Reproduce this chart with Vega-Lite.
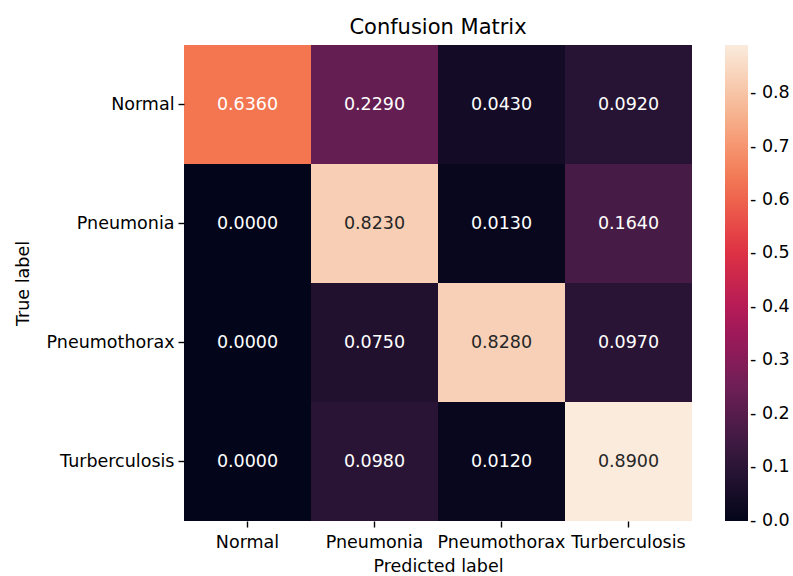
{
  "$schema": "https://vega.github.io/schema/vega-lite/v6.json",
  "width": 508,
  "height": 476,
  "autosize": "none",
  "padding": {"left": 184, "top": 45, "right": 101, "bottom": 55},
  "background": "white",
  "title": {"text": "Confusion Matrix", "font": "DejaVu Sans", "fontSize": 21, "fontWeight": "normal", "color": "black", "offset": 7, "anchor": "middle"},
  "config": {"view": {"stroke": null}},
  "data": {
    "values": [
      {"true": "Normal", "pred": "Normal", "value": 0.636},
      {"true": "Normal", "pred": "Pneumonia", "value": 0.229},
      {"true": "Normal", "pred": "Pneumothorax", "value": 0.043},
      {"true": "Normal", "pred": "Turberculosis", "value": 0.092},
      {"true": "Pneumonia", "pred": "Normal", "value": 0.0},
      {"true": "Pneumonia", "pred": "Pneumonia", "value": 0.823},
      {"true": "Pneumonia", "pred": "Pneumothorax", "value": 0.013},
      {"true": "Pneumonia", "pred": "Turberculosis", "value": 0.164},
      {"true": "Pneumothorax", "pred": "Normal", "value": 0.0},
      {"true": "Pneumothorax", "pred": "Pneumonia", "value": 0.075},
      {"true": "Pneumothorax", "pred": "Pneumothorax", "value": 0.828},
      {"true": "Pneumothorax", "pred": "Turberculosis", "value": 0.097},
      {"true": "Turberculosis", "pred": "Normal", "value": 0.0},
      {"true": "Turberculosis", "pred": "Pneumonia", "value": 0.098},
      {"true": "Turberculosis", "pred": "Pneumothorax", "value": 0.012},
      {"true": "Turberculosis", "pred": "Turberculosis", "value": 0.89}
    ]
  },
  "encoding": {
    "x": {
      "field": "pred", "type": "nominal",
      "sort": ["Normal", "Pneumonia", "Pneumothorax", "Turberculosis"],
      "title": "Predicted label",
      "scale": {"paddingInner": 0, "paddingOuter": 0},
      "axis": {
        "labelAngle": 0, "labelFont": "DejaVu Sans", "labelFontSize": 17.5, "labelColor": "black",
        "labelPadding": 6, "tickSize": 6, "tickWidth": 1.4, "tickColor": "black",
        "domain": false, "grid": false,
        "titleFont": "DejaVu Sans", "titleFontSize": 17.5, "titleFontWeight": "normal", "titleColor": "black", "titlePadding": 7
      }
    },
    "y": {
      "field": "true", "type": "nominal",
      "sort": ["Normal", "Pneumonia", "Pneumothorax", "Turberculosis"],
      "title": "True label",
      "scale": {"paddingInner": 0, "paddingOuter": 0},
      "axis": {
        "labelAngle": 0, "labelFont": "DejaVu Sans", "labelFontSize": 17.5, "labelColor": "black",
        "labelPadding": 4, "tickSize": 6, "tickWidth": 1.4, "tickColor": "black",
        "domain": false, "grid": false,
        "titleFont": "DejaVu Sans", "titleFontSize": 17.5, "titleFontWeight": "normal", "titleColor": "black", "titlePadding": 14
      }
    }
  },
  "layer": [
    {
      "mark": {"type": "rect"},
      "encoding": {
        "color": {
          "field": "value", "type": "quantitative",
          "scale": {
            "domain": [-0.0005, 0.127143, 0.254286, 0.381429, 0.508571, 0.635714, 0.762857, 0.89],
            "range": ["#03051a", "#35193e", "#701f57", "#ad1759", "#e13342", "#f37651", "#f6b48f", "#faebdd"],
            "interpolate": "rgb"
          },
          "legend": {
            "title": null, "orient": "right", "offset": 33, "direction": "vertical",
            "gradientLength": 476, "gradientThickness": 23, "gradientStrokeWidth": 0,
            "values": [0, 0.1, 0.2, 0.3, 0.4, 0.5, 0.6, 0.7, 0.8],
            "format": ".1f", "labelExpr": "'- ' + datum.label",
            "labelFont": "DejaVu Sans", "labelFontSize": 17.5, "labelColor": "black",
            "labelOffset": 2, "labelBaseline": "middle", "labelOverlap": false
          }
        }
      }
    },
    {
      "mark": {"type": "text", "font": "DejaVu Sans", "fontSize": 17.5},
      "encoding": {
        "text": {"field": "value", "type": "quantitative", "format": ".4f"},
        "color": {"condition": {"test": "datum.value > 0.7", "value": "#262626"}, "value": "white"}
      }
    }
  ]
}
